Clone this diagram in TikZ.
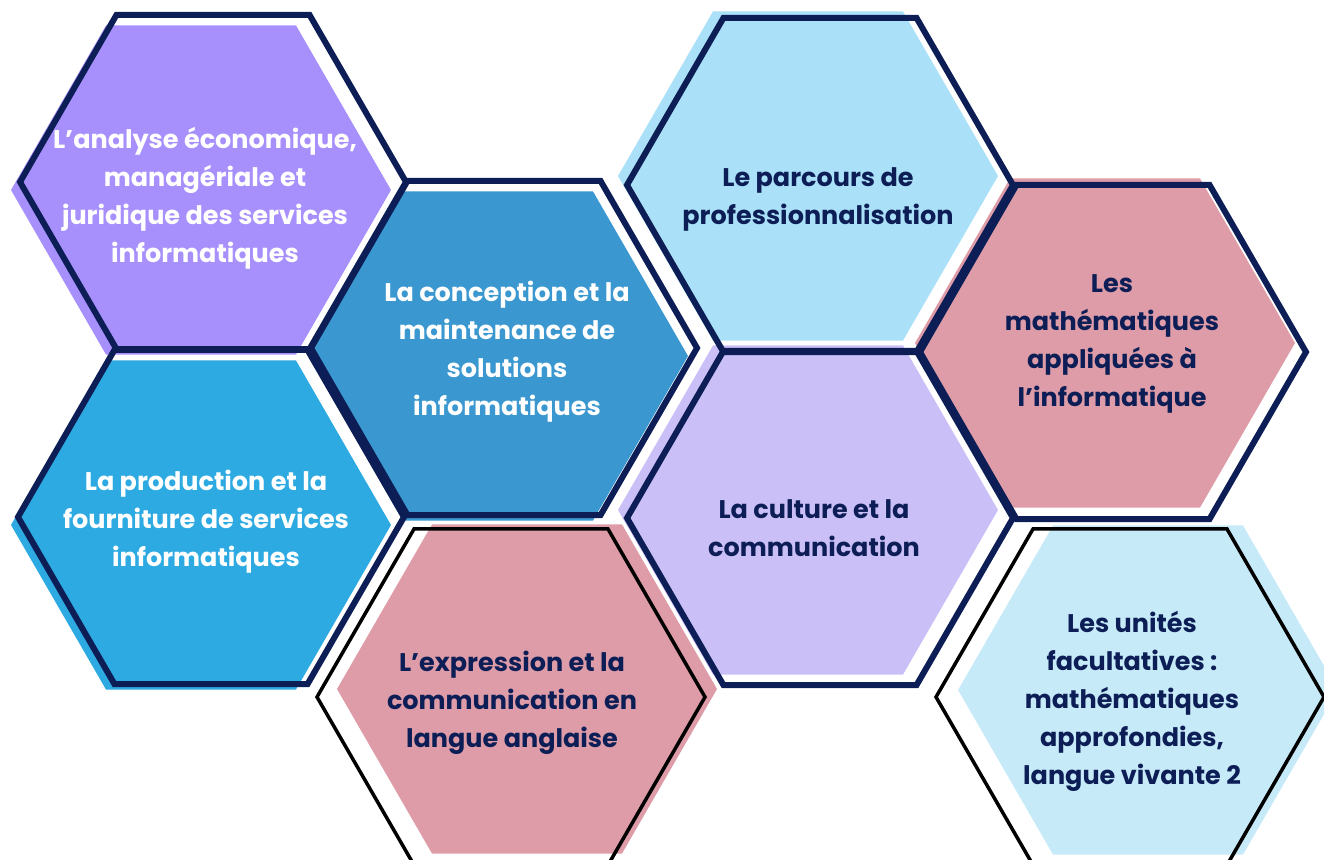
\documentclass[tikz,border=0pt]{standalone}
\usepackage{fontspec}
\setmainfont{Poppins}
\usetikzlibrary{shapes,positioning}
\definecolor{navy}{HTML}{0C1E55}
\definecolor{mauve}{HTML}{A890FC}
\definecolor{ocean}{HTML}{3A97CF}
\definecolor{sky}{HTML}{ABE1F8}
\definecolor{rose}{HTML}{DE9CA8}
\definecolor{azure}{HTML}{2DAAE1}
\definecolor{lilac}{HTML}{CBBFF8}
\definecolor{ice}{HTML}{C7EAF9}

\begin{document}
\begin{tikzpicture}[x=1pt,y=-1pt,% pixel units, y grows downwards
      every node/.style={
        align=center,   % so that "\\" breaks the lines
        inner sep=0pt,
        outer sep=0pt
      },
      hex/.style={regular polygon,regular polygon sides=6},
      hexfill/.style={hex,minimum size=380pt,draw=none},
      hexline/.style={hex,minimum size=386pt,draw=navy,line width=6pt},
      hexblack/.style={hex,minimum size=388pt,draw=black,line width=3.5pt},
      hextext/.style={font=\bfseries\fontsize{25.5}{38}\selectfont,text=navy}
    ]
    \useasboundingbox (0,0) rectangle (1324,859);
    \clip (0,0) rectangle (1324,859);
    % coloured plates
    \node[hexfill,fill=mauve](F1) at (201,190){};
    \node[hexfill,fill=ocean](F2) at (498,356){};
    \node[hexfill,fill=sky](F3) at (808,176){};
    \node[hexfill,fill=rose](F4) at (1105,343){};
    \node[hexfill,fill=azure](F5) at (201,525){};
    \node[hexfill,fill=lilac](F6) at (808,510){};
    \node[hexfill,fill=rose](F7) at (527,689){};
    \node[hexfill,fill=ice](F8) at (1148,690){};
    % frames
    \node[hexline](H1) at (213,182){};
    \node[hexline](H2) at (504,348){};
    \node[hexline](H3) at (820,185){};
    \node[hexline](H4) at (1113,352){};
    \node[hexline](H5) at (211,517){};
    \node[hexline](H6) at (820,518){};
    \node[hexblack](H7) at (511,697){};
    \node[hexblack](H8) at (1130,697){};
    % texts
    \node[hextext,text=white](T1) at (205,198){L’analyse économique, \\ managériale et \\ juridique des services \\ informatiques};
    \node[hextext,text=white](T2) at (507,352){La conception et la \\ maintenance de \\ solutions \\ informatiques};
    \node[hextext](T3) at (818,199){Le parcours de \\ professionnalisation};
    \node[hextext](T4) at (1112,344){Les \\ mathématiques \\ appliquées à \\ l’informatique};
    \node[hextext,text=white](T5) at (206,522){La production et la \\ fourniture de services \\ informatiques};
    \node[hextext](T6) at (814,528){La culture et la \\ communication};
    \node[hextext](T7) at (512,703){L’expression et la \\ communication en \\ langue anglaise};
    \node[hextext](T8) at (1132,701){Les unités \\ facultatives : \\ mathématiques \\ approfondies, \\ langue vivante 2};
  \end{tikzpicture}
\end{document}
